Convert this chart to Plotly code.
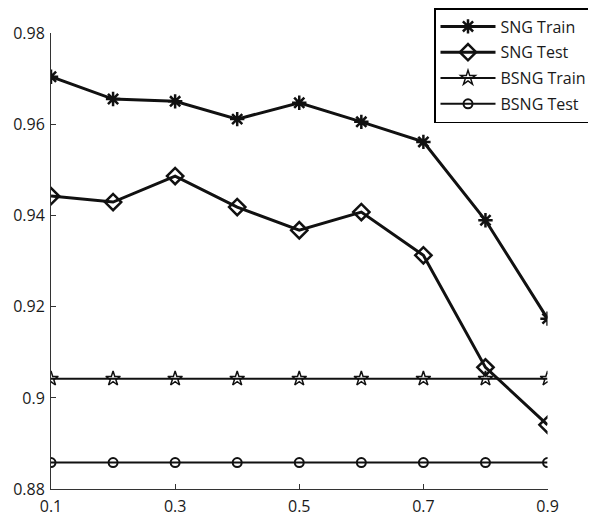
import plotly.graph_objects as go

x_vals = [0.1, 0.2, 0.3, 0.4, 0.5, 0.6, 0.7, 0.8, 0.9]
sng_train = [0.9705, 0.9656, 0.9651, 0.9612, 0.9648, 0.9606, 0.9562, 0.9390, 0.9174]
sng_test = [0.9443, 0.9430, 0.9487, 0.9419, 0.9368, 0.9408, 0.9313, 0.9067, 0.8941]
bsng_train = [0.9042] * 9
bsng_test = [0.8858] * 9

x_ticks = [0.1, 0.3, 0.5, 0.7, 0.9]
x_ticktext = ["0.1", "0.3", "0.5", "0.7", "0.9"]
y_ticks = [0.88, 0.90, 0.92, 0.94, 0.96, 0.98]
y_ticktext = ["0.88", "0.9", "0.92", "0.94", "0.96", "0.98"]

black = "#111111"
fig = go.Figure()
fig.add_trace(go.Scatter(x=x_vals, y=sng_train, name="SNG Train", mode="lines+markers",
                         legendgroup="a",
                         line=dict(color=black, width=3),
                         marker=dict(symbol="asterisk-open", size=12, line=dict(color=black, width=2.5))))
fig.add_trace(go.Scatter(x=x_vals, y=sng_test, name="SNG Test", mode="lines+markers",
                         legendgroup="b",
                         line=dict(color=black, width=3),
                         marker=dict(symbol="diamond-open", size=12.5, color=black, line=dict(color=black, width=2.5))))
fig.add_trace(go.Scatter(x=x_vals, y=bsng_train, name="BSNG Train", mode="lines+markers",
                         legendgroup="c",
                         line=dict(color=black, width=2),
                         marker=dict(symbol="star-open", size=11, color=black, line=dict(color=black, width=1.5))))
fig.add_trace(go.Scatter(x=x_vals, y=bsng_test, name="BSNG Test", mode="lines+markers",
                         legendgroup="d",
                         line=dict(color=black, width=2),
                         marker=dict(symbol="circle-open", size=9, color=black, line=dict(color=black, width=2))))

# the page body adds an 8px offset; positions below are in figure pixels
OFF = 8
W, H = 596, 517
ax_left = 50.7 - OFF
ax_right = 547.5 - OFF
ax_top = 33.5 - OFF
ax_bottom = 489.3 - OFF
leg_right = 593 - OFF
L, R, T, B = ax_left, W - leg_right, 0, H - ax_bottom
pw, ph = W - L - R, H - T - B
font_family = "Open Sans, sans-serif"
fig.update_layout(
    width=W, height=H,
    margin=dict(l=L, r=R, t=T, b=B, autoexpand=False),
    paper_bgcolor="white", plot_bgcolor="white",
    font=dict(family=font_family, size=16, color="#1a1a1a"),
    showlegend=True,
    legend=dict(x=1, y=1, xanchor="right", yanchor="top",
                bgcolor="white", bordercolor="black", borderwidth=1.5,
                font=dict(size=16), itemwidth=55, tracegroupgap=2),
    xaxis=dict(range=[0.1, 0.9], tickvals=x_ticks, ticktext=x_ticktext,
               domain=[0, (ax_right - L) / pw], automargin=False,
               showgrid=False, zeroline=False, showline=True, linecolor="#333", linewidth=1,
               ticks="inside", ticklen=5, tickcolor="#333", mirror=False,
               ticklabelstandoff=3, tickfont=dict(size=16)),
    yaxis=dict(range=[0.88, 0.98], tickvals=y_ticks, ticktext=y_ticktext,
               domain=[0, (ax_bottom - ax_top) / ph], automargin=False,
               showgrid=False, zeroline=False, showline=True, linecolor="#333", linewidth=1,
               ticks="inside", ticklen=5, tickcolor="#333", mirror=False,
               ticklabelstandoff=2, tickfont=dict(size=16)),
)
fig.write_html("out.html")
